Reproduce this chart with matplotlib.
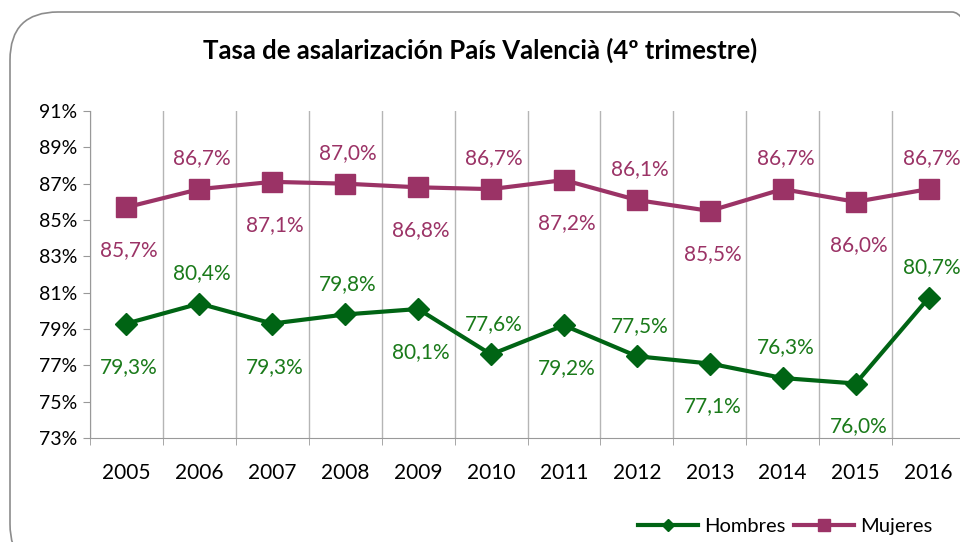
import numpy as np
import matplotlib.pyplot as plt
from matplotlib.patches import FancyBboxPatch
from matplotlib.ticker import FuncFormatter

years = ['2005', '2006', '2007', '2008', '2009', '2010',
         '2011', '2012', '2013', '2014', '2015', '2016']
hombres = [79.3, 80.4, 79.3, 79.8, 80.1, 77.6, 79.2, 77.5, 77.1, 76.3, 76.0, 80.7]
mujeres = [85.7, 86.7, 87.1, 87.0, 86.8, 86.7, 87.2, 86.1, 85.5, 86.7, 86.0, 86.7]

green = '#006414'
green_txt = '#1a7a1a'
purple = '#9b3366'

plt.rcParams['font.family'] = ['Lato', 'DejaVu Sans']

fig = plt.figure(figsize=(9.6, 5.42), dpi=100)

# rounded chart border (extends past right/bottom edge like the crop)
border = FancyBboxPatch((10 / 960, -30 / 542), 990 / 960, 560 / 542,
                        boxstyle='round,pad=0,rounding_size=0.05',
                        transform=fig.transFigure, fill=False,
                        edgecolor='#8c8c8c', linewidth=1.2,
                        mutation_aspect=960 / 542)
fig.patches.append(border)

ax = fig.add_axes([90 / 960, 104 / 542, 875 / 960, 327 / 542])
x = np.arange(len(years))

ax.plot(x, hombres, color=green, lw=3, marker='D', ms=11, label='Hombres',
        clip_on=False, zorder=3)
ax.plot(x, mujeres, color=purple, lw=3, marker='s', ms=14, label='Mujeres',
        clip_on=False, zorder=3)

# data labels alternating below / above
for i in range(len(years)):
    dy = -31 if i % 2 == 0 else 22
    for vals, col in ((hombres, green_txt), (mujeres, purple)):
        ax.annotate(f'{vals[i]:.1f}%'.replace('.', ','), (x[i], vals[i]),
                    xytext=(2, dy), textcoords='offset points',
                    ha='center', va='center', fontsize=15, color=col)

ax.set_xlim(-0.5, len(years) - 0.5)
ax.set_ylim(73, 91)
ax.set_yticks(np.arange(73, 92, 2))
ax.yaxis.set_major_formatter(FuncFormatter(lambda v, p: f'{v:.0f}%'))
ax.set_xticks(x)
ax.set_xticklabels(years)
ax.set_xticks(np.arange(-0.5, len(years), 1), minor=True)
ax.tick_params(axis='x', which='major', length=0, pad=18, labelsize=15)
ax.tick_params(axis='x', which='minor', length=5, color='#999999')
ax.tick_params(axis='y', length=5, color='#999999', labelsize=14, pad=4)
ax.grid(axis='x', which='minor', color='#b5b5b5', lw=1)
for s in ('top', 'right'):
    ax.spines[s].set_visible(False)
for s in ('left', 'bottom'):
    ax.spines[s].set_color('#999999')

fig.text(0.5, 1 - 50 / 542, 'Tasa de asalarización País Valencià (4º trimestre)',
         ha='center', va='center', fontsize=18.5, fontweight='bold')

ax.legend(loc='center', bbox_to_anchor=(785 / 960, 16 / 542),
          bbox_transform=fig.transFigure, ncol=2, frameon=False,
          fontsize=14.5, handlelength=3, columnspacing=0.4, handletextpad=0.3,
          markerscale=0.6)

fig.savefig('out.png', dpi=100)
